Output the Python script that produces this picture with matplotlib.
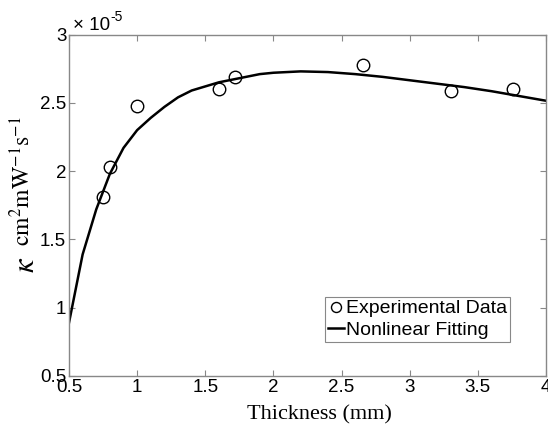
import matplotlib

matplotlib.use("Agg")
import matplotlib.pyplot as plt

# measured points (kappa in units of 1e-5 cm^2 mW^-1 s^-1)
thickness_mm = [0.75, 0.80, 1.00, 1.60, 1.72, 2.66, 3.30, 3.76]
kappa_exp = [1.81, 2.03, 2.48, 2.60, 2.69, 2.78, 2.59, 2.60]

# nonlinear fit curve
fit_x = [0.5, 0.6, 0.7, 0.8, 0.9, 1.0, 1.1, 1.2, 1.3, 1.4, 1.5, 1.6, 1.7, 1.8,
         1.9, 2.0, 2.2, 2.4, 2.6, 2.8, 3.0, 3.2, 3.4, 3.6, 3.8, 4.0]
fit_y = [0.89, 1.39, 1.72, 1.98, 2.17, 2.30, 2.39, 2.47, 2.54, 2.59, 2.62,
         2.65, 2.67, 2.69, 2.71, 2.72, 2.73, 2.725, 2.71, 2.69, 2.665, 2.64,
         2.615, 2.585, 2.55, 2.515]

xticks = [0.5, 1, 1.5, 2, 2.5, 3, 3.5, 4]
yticks = [0.5, 1, 1.5, 2, 2.5, 3]

plt.rcParams["font.family"] = "Liberation Sans"
plt.rcParams["mathtext.fontset"] = "stix"

fig = plt.figure(figsize=(5.48, 4.32), dpi=100)
ax = fig.add_axes([69 / 548, 1 - 376 / 432, (546 - 69) / 548, (376 - 34.5) / 432])

ax.plot(thickness_mm, kappa_exp, "o", mfc="none", mec="black", ms=9,
        mew=1.0, label="Experimental Data")
ax.plot(fit_x, fit_y, "-", color="black", lw=1.8, label="Nonlinear Fitting")

ax.set_xlim(0.5, 4)
ax.set_ylim(0.5, 3)
ax.set_xticks(xticks)
ax.set_xticklabels([f"{t:g}" for t in xticks])
ax.set_yticks(yticks)
ax.set_yticklabels([f"{t:g}" for t in yticks])
ax.tick_params(direction="in", top=True, right=True, length=4, width=0.8,
               color="#888888", labelsize=13.5, pad=2)
for sp in ax.spines.values():
    sp.set_color("#888888")
    sp.set_linewidth(1.0)

# MATLAB-style exponent label above the y axis
base = ax.text(0.008, 1.0, "× 10", transform=ax.transAxes, fontsize=13.5,
               ha="left", va="bottom")
ax.annotate("-5", xy=(1.02, 0.6), xycoords=base, fontsize=10,
            ha="left", va="bottom")

ax.set_xlabel("Thickness (mm)", family="Liberation Serif", fontsize=16)
ax.xaxis.set_label_coords(0.524, -0.085)

# units as the axis label, the large italic kappa drawn next to it
ax.set_ylabel(r"$\mathrm{cm^{2}mW^{-1}s^{-1}}$", fontsize=17)
ax.yaxis.set_label_coords(-0.071, 0.572)
fig.text(26 / 548, 1 - 265 / 432, r"$\kappa$", rotation=90, fontsize=22,
         ha="center", va="center")

leg = ax.legend(loc="lower right", bbox_to_anchor=(0.925, 0.1), fontsize=14,
                fancybox=False, framealpha=1, handlelength=0.85,
                handletextpad=0.1, borderpad=0.15, labelspacing=0.2,
                borderaxespad=0, markerscale=0.8)
leg.get_frame().set_edgecolor("#888888")
leg.get_frame().set_linewidth(0.8)

fig.savefig("out.png", dpi=100)
